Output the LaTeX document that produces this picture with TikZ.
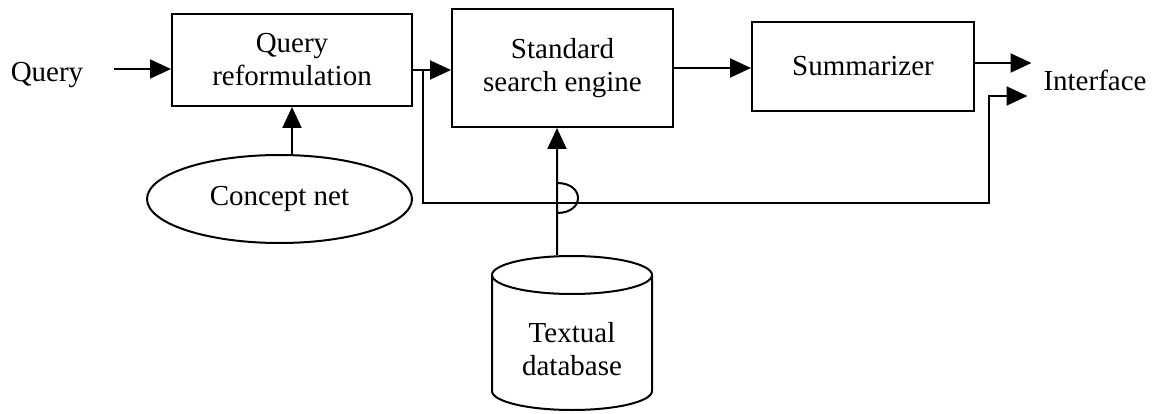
\documentclass[tikz,border=0pt]{standalone}
\usepackage{fontspec}
\setmainfont{Liberation Serif}
\usetikzlibrary{arrows.meta,shapes.geometric}

\tikzset{every picture/.style={line width=2pt}}
\tikzset{
	box/.style={draw, align=center, inner sep=0pt, font=\fontsize{29}{33}\selectfont},
	lbl/.style={inner sep=0pt, align=center, font=\fontsize{29}{33}\selectfont},
	arr/.style={-{Triangle[length=21pt,width=19pt]}},
}

\begin{document}
\begin{tikzpicture}[x=1pt,y=1pt,yscale=-1,xscale=1]
	\useasboundingbox (0,0) rectangle (1164,414);

	% Blocks
	\node[lbl] (query) at (47,75) {Query};
	\node[box, minimum width=240pt, minimum height=92pt] (qr) at (292,60) {Query\\reformulation};
	\node[box, minimum width=221pt, minimum height=118pt] (sse) at (562.5,68) {Standard\\search engine};
	\node[box, minimum width=222pt, minimum height=89pt] (summ) at (863,66.5) {Summarizer};
	\node[lbl] (iface) at (1095,80) {Interface};
	\node[box, ellipse, minimum width=265pt, minimum height=88pt] (concept) at (279.5,199) {Concept net};

	% Textual database (cylinder)
	\node[lbl, minimum width=160pt, minimum height=154pt] (db) at (572,333) {};
	\draw (572,275) ellipse [x radius=80, y radius=19];
	\draw (492,275) -- (492,391) arc [start angle=180, end angle=0, x radius=80, y radius=19] -- (652,275);
	\node[lbl] (dbtext) at ([yshift=16pt]db.center) {Textual\\database};

	% Bends
	\coordinate (split) at (423,70);
	\coordinate (ret) at (989,203);
	\coordinate (hop) at (557,198);

	% Connectors
	\draw[arr] ([xshift=30pt]query.east |- 0,69) -- (qr.west |- 0,69);
	\draw[arr] (qr.east |- split) -- (sse.west |- split);
	\draw[arr] (sse.east |- 0,68) -- (summ.west |- 0,68);
	\draw[arr] (summ.east |- 0,63) -- ([xshift=-11pt]iface.west |- 0,63);
	\draw[arr] (split) |- (ret) |- ([xshift=-15pt]iface.west |- 0,96);
	\draw[arr] (qr.south |- concept.north) -- (qr.south);
	\draw[arr] (hop |- db.north) -- ([yshift=-15pt]hop) .. controls ([shift={(28pt,-15pt)}]hop) and ([shift={(28pt,15pt)}]hop) .. ([yshift=15pt]hop) -- (hop |- sse.south);

\end{tikzpicture}
\end{document}
